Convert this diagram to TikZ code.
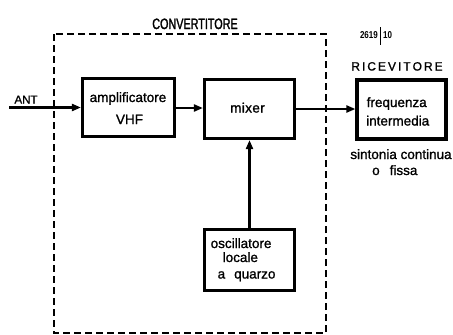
\documentclass[tikz,border=0pt]{standalone}
\usepackage{fontspec}
\setmainfont{Liberation Sans}[UprightFeatures={FakeBold=1.2}]
\newfontfamily\condfont{Liberation Sans}[FakeStretch=0.72,UprightFeatures={FakeBold=1.6}]
\newfontfamily\numfont{Liberation Sans Bold}[FakeStretch=0.8]
\usetikzlibrary{arrows.meta}
\tikzset{
  blockbox/.style={draw, line width=3.2pt, inner sep=0pt, minimum width=#1},
  conn/.style={line width=2.2pt},
  arr/.style={conn, -{Triangle[length=9pt,width=7pt]}},
  txt/.style={inner sep=0pt, font=\fontsize{13.5}{16}\selectfont},
  frame/.style={draw, line width=1.5pt, dash pattern=on 7pt off 4pt},
}
\begin{document}
\begin{tikzpicture}[x=1pt,y=-1pt]
\useasboundingbox (0,0) rectangle (453,335);
% dashed converter frame
\draw[frame] (54,34) rectangle (326,333);
\node[txt, font=\condfont\fontsize{15}{17}\selectfont, anchor=base] (conv) at (195,29) {CONVERTITORE};
\node[txt, font=\numfont\fontsize{10}{12}\selectfont, anchor=base east] (num) at (378,38) {2619};
\node[txt, font=\numfont\fontsize{10}{12}\selectfont, anchor=base west] (num2) at (383,38) {10};
\draw[line width=1.2pt] (380.5,27) -- (380.5,45);
\node[txt, font=\fontsize{12}{14}\selectfont, anchor=base] (ric) at (397,70.5) {R\,I\,C\,E\,V\,I\,T\,O\,R\,E};
% blocks
\node[blockbox=92pt, minimum height=58pt] (amp) at (128.5,107.5) {};
\node[blockbox=90pt, minimum height=59pt] (mix) at (249.5,109) {};
\node[blockbox=90pt, minimum height=61pt] (osc) at (249.5,260) {};
\node[blockbox=89pt, minimum height=59pt] (rec) at (401.5,109.5) {};
% block texts
\node[txt, anchor=base] (ampt1) at (128,102) {amplificatore};
\node[txt, anchor=base] (ampt2) at (129.5,124) {VHF};
\node[txt, anchor=base] (mixt) at (247.5,112.5) {m\kern0.4pt i\kern0.4pt x\kern0.4pt e\kern0.4pt r};
\node[txt, anchor=base west] (osct1) at (210.5,248) {oscillatore};
\node[txt, anchor=base west] (osct2) at (222.5,262) {locale};
\node[txt, anchor=base west] (osct3) at (217.5,278.5) {a\hspace{9pt}quarzo};
\node[txt, anchor=base west] (rect1) at (366.5,107) {frequenza};
\node[txt, anchor=base west] (rect2) at (366,125.5) {intermedia};
\node[txt, anchor=base] (sint) at (401,159) {sintonia continua};
\node[txt, anchor=base west] (fissa) at (372,175) {o\hspace{10pt}fissa};
% ANT input
\node[txt, font=\fontsize{11.5}{14}\selectfont, anchor=base] (ant) at (26,103.5) {ANT};
\coordinate (antin) at (9,107.5);
% connectors
\draw[arr] (antin) -- (amp.west);
\draw[arr] (amp.east |- 0,108) -- (mix.west |- 0,108);
\draw[arr] (mix.east) -- (rec.west |- mix.east);
\draw[arr] (osc.north) -- (mix.south);
\end{tikzpicture}
\end{document}
